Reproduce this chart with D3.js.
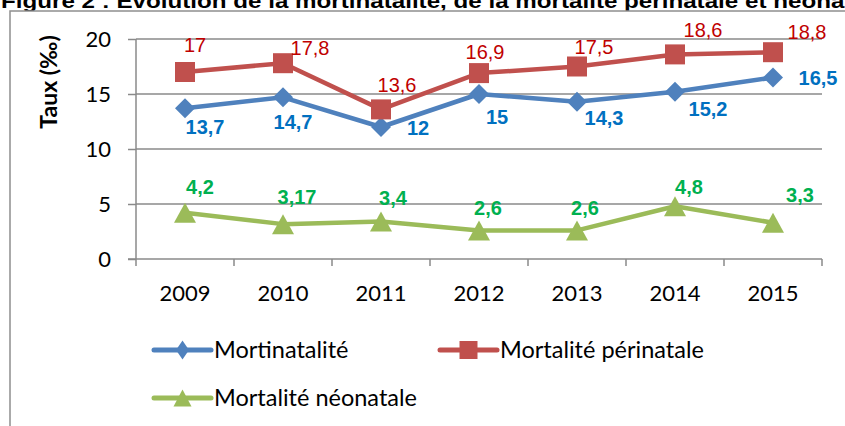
<!DOCTYPE html>
<html>
<head>
<meta charset="utf-8">
<script src="https://cdn.jsdelivr.net/npm/d3@7"></script>
<style>
  html, body { margin: 0; padding: 0; background: #fff; overflow: hidden; }
  svg { display: block; }
</style>
</head>
<body>
<svg id="chart" width="845" height="426"></svg>
<script>
// Years on the category axis
const years = ["2009", "2010", "2011", "2012", "2013", "2014", "2015"];
// Rates per thousand
const mortinatalite = [13.7, 14.7, 12, 15, 14.3, 15.2, 16.5];
const mortalitePerinatale = [17, 17.8, 13.6, 16.9, 17.5, 18.6, 18.8];
const mortaliteNeonatale = [4.2, 3.17, 3.4, 2.6, 2.6, 4.8, 3.3];
// Value axis ticks
const yTicks = [0, 5, 10, 15, 20];

const seriesNames = ["Mortinatalité", "Mortalité périnatale", "Mortalité néonatale"];
const titleText = "Figure 2 : Evolution de la mortinatalité, de la mortalité périnatale et néonatale";
const yTitle = "Taux (‰)";

// Label placement (dx, dy from each point), per series
const labelNudge = [
  [[20, 19], [10, 25], [37, 1], [18, 23], [27, 16], [33, 17], [45, 0]],
  [[10, -27], [27, -15], [16, -24], [6, -21], [17, -20], [28, -24], [34, -20]],
  [[15, -26], [14, -27], [12, -24], [9, -22], [8, -22], [14, -19], [27, -28]]
];

const styles = [
  { line: "#4F81BD", label: "#0070C0", weight: "bold", marker: "diamond" },
  { line: "#C0504D", label: "#C00000", weight: "normal", marker: "square" },
  { line: "#9BBB59", label: "#00B050", weight: "bold", marker: "triangle" }
];

const series = [mortinatalite, mortalitePerinatale, mortaliteNeonatale];

const svg = d3.select("#chart");
const gridColor = "#8a8a8a";
const tickFont = "Lato, 'Open Sans', sans-serif";
const labelFont = "'Liberation Sans', Arial, sans-serif";

// Title, running past the right edge of the page
svg.append("text")
  .attr("x", 1).attr("y", 8)
  .attr("font-family", labelFont)
  .attr("font-weight", "bold")
  .attr("font-size", 21)
  .attr("textLength", 885)
  .attr("lengthAdjust", "spacingAndGlyphs")
  .attr("fill", "#000")
  .text(titleText);

// Chart frame
svg.append("rect")
  .attr("x", 10).attr("y", 11)
  .attr("width", 900).attr("height", 500)
  .attr("fill", "#fff")
  .attr("stroke", "#8f8f8f")
  .attr("stroke-width", 1.5);

const x = d3.scaleBand().domain(years).range([136, 822]).padding(0);
const y = d3.scaleLinear().domain([0, 20]).range([259, 39]);

// Horizontal gridlines
svg.append("g").selectAll("line")
  .data(yTicks.filter(d => d > 0))
  .join("line")
  .attr("x1", x.range()[0]).attr("x2", x.range()[1])
  .attr("y1", d => y(d)).attr("y2", d => y(d))
  .attr("stroke", gridColor).attr("stroke-width", 1.5);

// Value axis
const yAxis = svg.append("g")
  .attr("transform", `translate(${x.range()[0]},0)`)
  .call(d3.axisLeft(y).tickValues(yTicks).tickSize(8).tickPadding(17));
yAxis.select(".domain").remove();
yAxis.append("line")
  .attr("x1", 0).attr("x2", 0)
  .attr("y1", y(20)).attr("y2", y(0) + 7)
  .attr("stroke", gridColor).attr("stroke-width", 1.5);
yAxis.selectAll(".tick line").attr("stroke", gridColor).attr("stroke-width", 1.5);
yAxis.selectAll(".tick text")
  .attr("font-family", tickFont).attr("font-size", 22).attr("fill", "#000");

// Category axis
const xAxis = svg.append("g")
  .attr("transform", `translate(0,${y(0)})`)
  .call(d3.axisBottom(x).tickSize(0).tickPadding(26));
xAxis.select(".domain").remove();
xAxis.append("line")
  .attr("x1", x.range()[0] - 8).attr("x2", x.range()[1])
  .attr("y1", 0).attr("y2", 0)
  .attr("stroke", gridColor).attr("stroke-width", 1.5);
xAxis.selectAll(".tick text")
  .attr("font-family", tickFont).attr("font-size", 22).attr("fill", "#000");
const bounds = years.map(d => x(d)).concat([x.range()[1]]).slice(1);
xAxis.selectAll(".bound").data(bounds).join("line")
  .attr("class", "bound")
  .attr("x1", d => d).attr("x2", d => d)
  .attr("y1", 0).attr("y2", 7)
  .attr("stroke", gridColor).attr("stroke-width", 1.5);

// Axis title
svg.append("text")
  .attr("transform", "translate(57,82) rotate(-90)")
  .attr("text-anchor", "middle")
  .attr("font-family", tickFont)
  .attr("font-weight", "bold")
  .attr("font-size", 23)
  .attr("fill", "#000")
  .text(yTitle);

// Marker shapes
function markerPath(kind, w, h) {
  const a = w / 2, b = h / 2;
  if (kind === "diamond") return `M0,${-b}L${a},0L0,${b}L${-a},0Z`;
  if (kind === "square") return `M${-a},${-b}H${a}V${b}H${-a}Z`;
  return `M0,${-b}L${a},${b}L${-a},${b}Z`;
}

const cx = d => x(d) + x.bandwidth() / 2;
const line = d3.line().x(d => cx(d.year)).y(d => y(d.value));

series.forEach((vals, si) => {
  const st = styles[si];
  const pts = vals.map((v, i) => ({ year: years[i], value: v, i }));
  const g = svg.append("g");
  g.append("path")
    .datum(pts)
    .attr("d", line)
    .attr("fill", "none")
    .attr("stroke", st.line)
    .attr("stroke-width", 4.5)
    .attr("stroke-linejoin", "round");
  g.selectAll("path.m").data(pts).join("path")
    .attr("class", "m")
    .attr("transform", d => `translate(${cx(d.year)},${y(d.value)})`)
    .attr("d", markerPath(st.marker, st.marker === "triangle" ? 22 : 20, 20))
    .attr("fill", st.line);
  g.selectAll("text").data(pts).join("text")
    .attr("x", d => cx(d.year) + labelNudge[si][d.i][0])
    .attr("y", d => y(d.value) + labelNudge[si][d.i][1])
    .attr("dy", "0.35em")
    .attr("text-anchor", "middle")
    .attr("font-family", labelFont)
    .attr("font-weight", st.weight)
    .attr("font-size", 20)
    .attr("fill", st.label)
    .text(d => String(d.value).replace(".", ","));
});

// Legend
const legendItems = [
  { x: 154, y: 350 },
  { x: 440, y: 350 },
  { x: 154, y: 398 }
];
legendItems.forEach((p, si) => {
  const st = styles[si];
  const g = svg.append("g").attr("transform", `translate(${p.x},${p.y})`);
  g.append("line")
    .attr("x1", 0).attr("x2", 57).attr("y1", 0).attr("y2", 0)
    .attr("stroke", st.line).attr("stroke-width", 5).attr("stroke-linecap", "round");
  const dims = st.marker === "diamond" ? [13, 19] : st.marker === "square" ? [18, 18] : [18, 17];
  g.append("path")
    .attr("transform", "translate(28.5,0)")
    .attr("d", markerPath(st.marker, dims[0], dims[1]))
    .attr("fill", st.line);
  g.append("text")
    .attr("x", 60).attr("y", 0).attr("dy", "0.35em")
    .attr("font-family", tickFont).attr("font-size", 23.5).attr("fill", "#000")
    .text(seriesNames[si]);
});
</script>
</body>
</html>
